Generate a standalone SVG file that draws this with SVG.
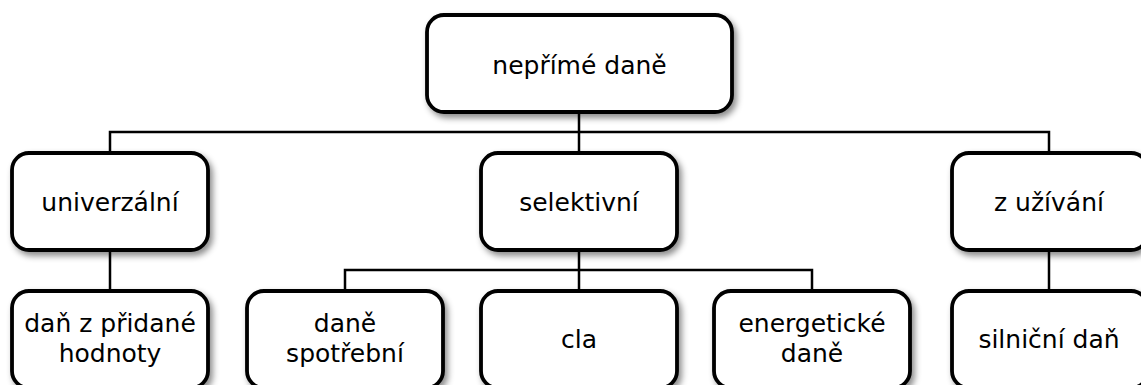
<svg xmlns="http://www.w3.org/2000/svg" width="1141" height="385" viewBox="0 0 1141 385">
<defs>
<filter id="sh" x="-20%" y="-20%" width="140%" height="150%">
<feDropShadow dx="3" dy="4" stdDeviation="3" flood-color="#000" flood-opacity="0.45"/>
</filter>
</defs>
<style>
.box{fill:#fff;stroke:#000;stroke-width:3.8;filter:url(#sh)}
.t{font-family:"DejaVu Sans","Open Sans",sans-serif;font-size:25px;fill:#000;text-anchor:middle}
.c{stroke:#000;stroke-width:2.5;fill:none}
</style>
<rect width="1141" height="385" fill="#fff"/>
<g id="connectors">
<path class="c" d="M579 112V132M110 153V132H1049V153M579 132V153"/>
<path class="c" d="M110 250V291M1049 250V291M579 250V291M345 291V270H812V291"/>
</g>
<g id="n-neprime"><rect class="box" x="427" y="15" width="305" height="97" rx="17"/><text class="t" x="579.5" y="74">nepřímé daně</text></g>
<g id="n-univerzalni"><rect class="box" x="12" y="153" width="196" height="97" rx="17"/><text class="t" x="110" y="211">univerzální</text></g>
<g id="n-selektivni"><rect class="box" x="481" y="153" width="196" height="97" rx="17"/><text class="t" x="579" y="211">selektivní</text></g>
<g id="n-zuzivani"><rect class="box" x="952" y="153" width="196" height="97" rx="17"/><text class="t" x="1049" y="211">z užívání</text></g>
<g id="n-dph"><rect class="box" x="12" y="291" width="196" height="97" rx="17"/><text class="t" x="110" y="332">daň z přidané<tspan x="110" dy="30">hodnoty</tspan></text></g>
<g id="n-spotrebni"><rect class="box" x="247" y="291" width="196" height="97" rx="17"/><text class="t" x="345" y="332">daně<tspan x="345" dy="30">spotřební</tspan></text></g>
<g id="n-cla"><rect class="box" x="481" y="291" width="196" height="97" rx="17"/><text class="t" x="579" y="348">cla</text></g>
<g id="n-energeticke"><rect class="box" x="714" y="291" width="196" height="97" rx="17"/><text class="t" x="812" y="332">energetické<tspan x="812" dy="30">daně</tspan></text></g>
<g id="n-silnicni"><rect class="box" x="952" y="291" width="196" height="97" rx="17"/><text class="t" x="1049" y="348">silniční daň</text></g>
</svg>
